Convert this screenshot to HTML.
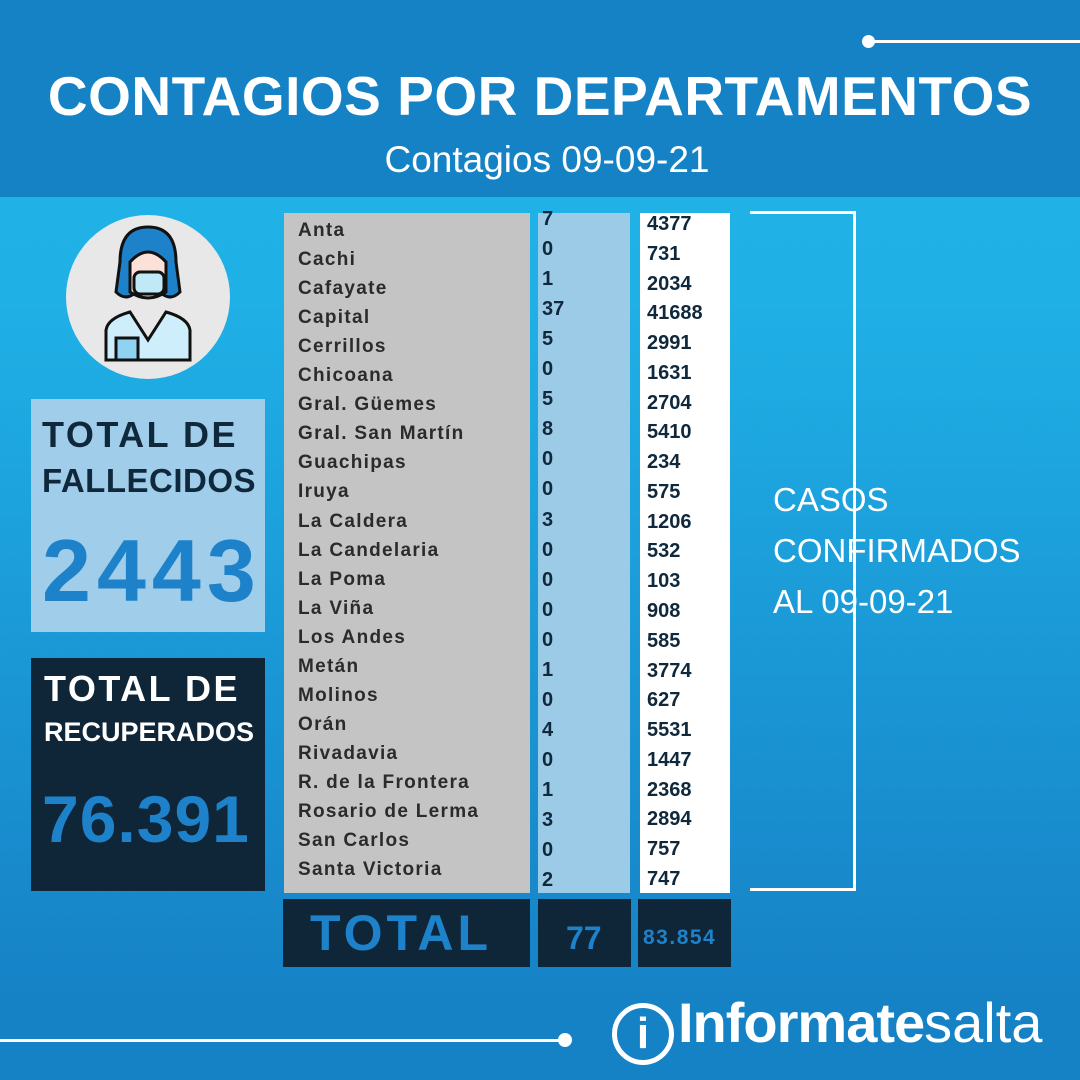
<!DOCTYPE html>
<html><head><meta charset="utf-8"><style>
*{margin:0;padding:0;box-sizing:border-box}
body{width:1080px;height:1080px;overflow:hidden;position:relative;font-family:"Liberation Sans",sans-serif;background:linear-gradient(180deg,#21b4e9 0px,#1fb0e6 300px,#1a95d4 700px,#1682c6 1000px)}
.a{position:absolute;white-space:nowrap}
.hdr{left:0;top:0;width:1080px;height:197px;background:#1682c6}
.t{font-weight:bold;color:#fff}
.nm{left:298px;font-size:19px;font-weight:bold;color:#2b2b2b;letter-spacing:1.3px;line-height:22px}
.n1{left:542px;font-size:20px;font-weight:bold;color:#10283b;line-height:22px}
.n2{left:647px;font-size:20px;font-weight:bold;color:#10283b;line-height:22px}
</style></head><body>
<div class="a hdr"></div>
<div class="a t" style="left:0;width:1080px;text-align:center;top:64px;font-size:55px;letter-spacing:0.5px">CONTAGIOS POR DEPARTAMENTOS</div>
<div class="a" style="left:0;width:1094px;text-align:center;top:139px;font-size:37px;color:#fff">Contagios 09-09-21</div>
<div class="a" style="left:868px;top:40px;width:212px;height:3px;background:#fff"></div>
<div class="a" style="left:862px;top:35px;width:13px;height:13px;border-radius:50%;background:#fff"></div>
<div class="a" style="left:0;top:1039px;width:565px;height:3px;background:#fff"></div>
<div class="a" style="left:558px;top:1033px;width:14px;height:14px;border-radius:50%;background:#fff"></div>

<div class="a" style="left:66px;top:215px;width:164px;height:164px;border-radius:50%;background:#e8e8e8"></div>
<svg class="a" style="left:100px;top:222px" width="96" height="140" viewBox="0 0 96 140">
<path d="M20 40 Q20 5 48 5 Q76 5 76 40 L80 70 Q70 80 60 70 L36 70 Q26 80 16 70Z" fill="#1d82c9" stroke="#111" stroke-width="3"/>
<path d="M30 40 Q48 20 66 40 L66 70 Q48 82 30 70Z" fill="#fbe1d8" stroke="#111" stroke-width="3"/>
<rect x="34" y="50" width="30" height="22" rx="6" fill="#bfe9f7" stroke="#111" stroke-width="3"/>
<path d="M6 138 L6 108 Q8 96 30 90 L48 118 L66 90 Q88 96 90 108 L90 138Z" fill="#cdeefa" stroke="#111" stroke-width="3"/>
<rect x="16" y="116" width="22" height="22" fill="#8fd3f1" stroke="#111" stroke-width="3"/>
</svg>

<div class="a" style="left:31px;top:399px;width:234px;height:233px;background:#a0cdea"></div>
<div class="a" style="left:42px;top:414px;font-size:36px;font-weight:bold;color:#10283b;letter-spacing:2.5px">TOTAL DE</div>
<div class="a" style="left:42px;top:462px;font-size:33px;font-weight:bold;color:#10283b;letter-spacing:0.5px">FALLECIDOS</div>
<div class="a" style="left:42px;top:520px;font-size:88px;font-weight:bold;color:#1d82c9;letter-spacing:6px">2443</div>

<div class="a" style="left:31px;top:658px;width:234px;height:233px;background:#0f2638"></div>
<div class="a" style="left:44px;top:668px;font-size:36px;font-weight:bold;color:#fff;letter-spacing:2.5px">TOTAL DE</div>
<div class="a" style="left:44px;top:717px;font-size:27px;font-weight:bold;color:#fff">RECUPERADOS</div>
<div class="a" style="left:42px;top:781px;font-size:66px;font-weight:bold;color:#1d82c9;letter-spacing:1px">76.391</div>

<div class="a" style="left:284px;top:213px;width:246px;height:680px;background:#c4c4c4"></div>
<div class="a" style="left:538px;top:213px;width:92px;height:680px;background:#9ccbe8"></div>
<div class="a" style="left:640px;top:213px;width:90px;height:680px;background:#fff"></div>

<div class="a" style="left:750px;top:211px;width:106px;height:3px;background:#fff"></div>
<div class="a" style="left:853px;top:211px;width:3px;height:680px;background:#fff"></div>
<div class="a" style="left:750px;top:888px;width:106px;height:3px;background:#fff"></div>
<div class="a" style="left:773px;top:474px;font-size:33px;color:#fff;line-height:51px">CASOS<br>CONFIRMADOS<br>AL 09-09-21</div>

<div class="a" style="left:283px;top:899px;width:247px;height:68px;background:#0f2638"></div>
<div class="a" style="left:538px;top:899px;width:93px;height:68px;background:#0f2638"></div>
<div class="a" style="left:638px;top:899px;width:93px;height:68px;background:#0f2638"></div>
<div class="a" style="left:310px;top:904px;font-size:50px;font-weight:bold;color:#1d82c9;letter-spacing:4px">TOTAL</div>
<div class="a" style="left:566px;top:920px;font-size:32px;font-weight:bold;color:#1d82c9">77</div>
<div class="a" style="left:643px;top:926px;font-size:21px;font-weight:bold;color:#1d82c9;letter-spacing:1.5px">83.854</div>

<div class="a t" style="left:612px;top:990px;font-size:56px;letter-spacing:-1px"><span style="display:inline-block;width:62px;height:62px;border:5px solid #fff;border-radius:50%;text-align:center;font-size:44px;line-height:52px;vertical-align:-6px;margin-right:4px;letter-spacing:0">i</span>Informate<span style="font-weight:normal;letter-spacing:0">salta</span></div>

<div id="rows"></div>
<script>
var n=["Anta","Cachi","Cafayate","Capital","Cerrillos","Chicoana","Gral. Güemes","Gral. San Martín","Guachipas","Iruya","La Caldera","La Candelaria","La Poma","La Viña","Los Andes","Metán","Molinos","Orán","Rivadavia","R. de la Frontera","Rosario de Lerma","San Carlos","Santa Victoria"];
var a=[7,0,1,37,5,0,5,8,0,0,3,0,0,0,0,1,0,4,0,1,3,0,2];
var b=[4377,731,2034,41688,2991,1631,2704,5410,234,575,1206,532,103,908,585,3774,627,5531,1447,2368,2894,757,747];
var h="";
for(var i=0;i<23;i++){
h+='<div class="a nm" style="top:'+(220+i*29.05)+'px">'+n[i]+'</div>';
h+='<div class="a n1" style="top:'+(208+i*30.05)+'px">'+a[i]+'</div>';
h+='<div class="a n2" style="top:'+(213+i*29.77)+'px">'+b[i]+'</div>';
}
document.getElementById("rows").innerHTML=h;
</script>
</body></html>
